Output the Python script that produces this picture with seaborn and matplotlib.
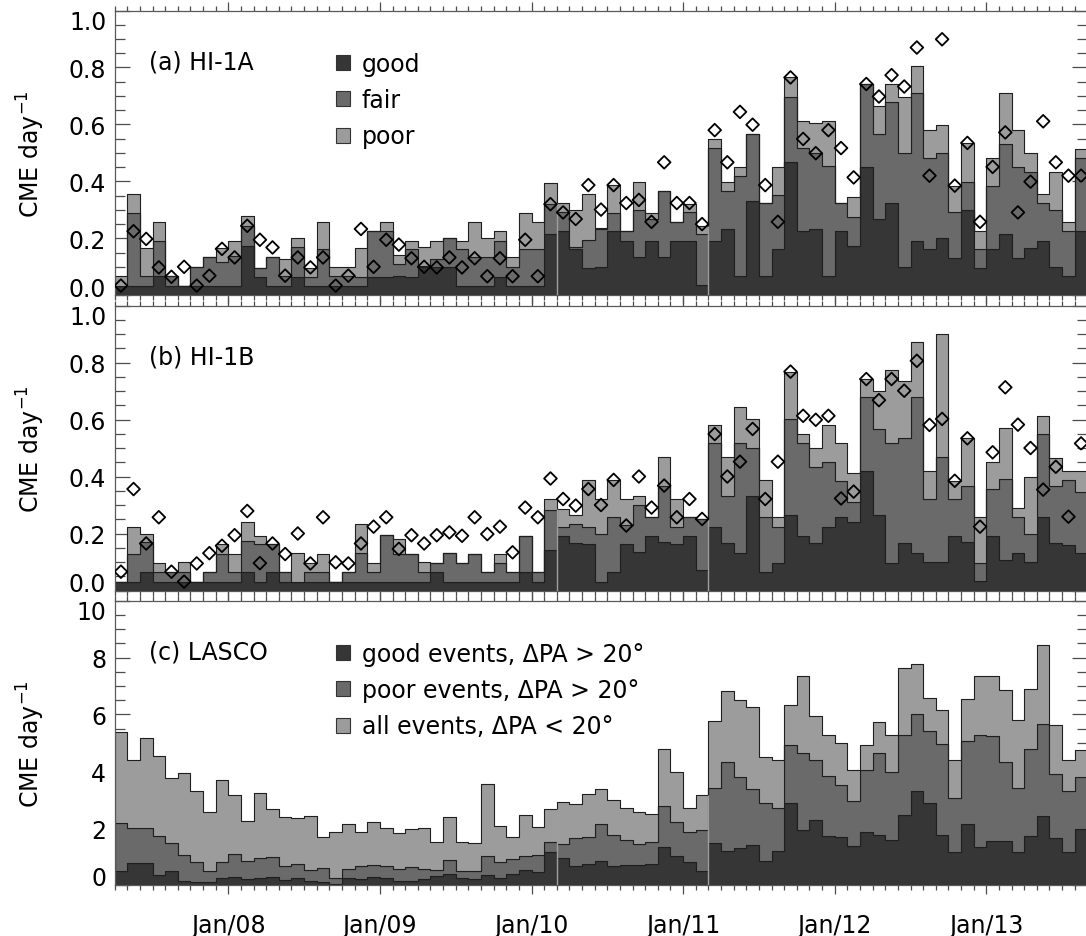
import numpy as np
import pandas as pd
import matplotlib
matplotlib.use("Agg")
import matplotlib.pyplot as plt
from matplotlib.patches import Patch
from matplotlib.ticker import MultipleLocator
from matplotlib.transforms import ScaledTranslation
import seaborn as sns

sns.set_theme(style="ticks")
plt.rcParams["font.family"] = ["DejaVu Sans"]
plt.rcParams["mathtext.default"] = "regular"
plt.rcParams["text.color"] = "black"
plt.rcParams["axes.labelcolor"] = "black"
plt.rcParams["xtick.labelcolor"] = "black"
plt.rcParams["ytick.labelcolor"] = "black"

# ---------------- data (monthly bins, first bin = Apr 2007) ----------------
n_bins = 77
year_ticks = [9, 21, 33, 45, 57, 69]
year_labels = ["Jan/08", "Jan/09", "Jan/10", "Jan/11", "Jan/12", "Jan/13"]

# HI-1A : cumulative levels (good, good+fair, all) and diamonds
hi1a_good = [0.034,0.034,0.034,0.069,0.034,0.034,0.034,0.034,0.034,0.034,0.174,0.065,0.034,0.034,0.065,0.034,0.034,0.034,0.034,0.034,
             0.065,0.065,0.069,0.065,0.100,0.100,0.098,0.034,0.034,0.034,0.065,0.034,0.034,0.034,0.215,0.225,0.163,0.095,0.100,0.225,
             0.192,0.133,0.192,0.133,0.192,0.192,0.036,0.192,0.233,0.067,0.332,0.067,0.163,0.467,0.225,0.233,0.067,0.225,0.172,0.451,
             0.268,0.323,0.100,0.192,0.163,0.200,0.130,0.301,0.095,0.163,0.214,0.130,0.165,0.192,0.100,0.067,0.225]
hi1a_fair = [0.034,0.288,0.069,0.192,0.069,0.034,0.098,0.133,0.116,0.139,0.244,0.095,0.133,0.069,0.168,0.065,0.163,0.069,0.069,0.065,
             0.225,0.225,0.110,0.163,0.104,0.127,0.200,0.163,0.133,0.133,0.192,0.098,0.163,0.163,0.320,0.291,0.168,0.195,0.233,0.289,
             0.225,0.301,0.268,0.367,0.258,0.291,0.215,0.517,0.367,0.420,0.566,0.323,0.353,0.698,0.517,0.499,0.453,0.323,0.274,0.742,
             0.566,0.677,0.499,0.709,0.481,0.499,0.291,0.399,0.163,0.385,0.533,0.451,0.432,0.323,0.301,0.225,0.481]
hi1a_all = [0.069,0.356,0.166,0.258,0.069,0.034,0.098,0.133,0.165,0.192,0.277,0.095,0.133,0.127,0.200,0.095,0.258,0.100,0.098,0.165,
            0.225,0.258,0.142,0.192,0.168,0.192,0.200,0.192,0.258,0.200,0.225,0.133,0.289,0.258,0.393,0.323,0.301,0.356,0.235,0.387,
            0.225,0.399,0.289,0.367,0.258,0.320,0.244,0.549,0.399,0.451,0.566,0.323,0.451,0.765,0.611,0.604,0.611,0.323,0.344,0.742,
            0.665,0.742,0.698,0.806,0.580,0.599,0.385,0.535,0.225,0.482,0.712,0.580,0.499,0.356,0.432,0.258,0.513]
hi1a_diam = [0.034,0.225,0.198,0.098,0.065,0.100,0.034,0.069,0.163,0.133,0.244,0.195,0.168,0.069,0.133,0.098,0.133,0.034,0.069,0.233,
             0.100,0.195,0.178,0.130,0.100,0.098,0.133,0.098,0.130,0.067,0.130,0.067,0.195,0.067,0.320,0.291,0.268,0.387,0.301,0.387,
             0.324,0.335,0.258,0.467,0.324,0.324,0.250,0.580,0.467,0.644,0.599,0.387,0.258,0.765,0.549,0.499,0.580,0.517,0.414,0.742,
             0.698,0.773,0.733,0.870,0.420,0.899,0.385,0.535,0.258,0.451,0.572,0.291,0.399,0.611,0.467,0.420,0.420]

# HI-1B
hi1b_good = [0.031,0.031,0.066,0.031,0.031,0.031,0.031,0.031,0.031,0.031,0.066,0.031,0.066,0.031,0.031,0.031,0.031,0.031,0.031,0.031,
             0.031,0.031,0.031,0.031,0.031,0.066,0.031,0.031,0.031,0.031,0.031,0.031,0.066,0.031,0.143,0.192,0.167,0.163,0.031,0.066,
             0.163,0.134,0.192,0.169,0.163,0.192,0.073,0.224,0.167,0.130,0.333,0.066,0.095,0.265,0.192,0.167,0.224,0.257,0.241,0.418,
             0.265,0.095,0.165,0.130,0.099,0.101,0.192,0.169,0.034,0.192,0.107,0.130,0.099,0.259,0.167,0.161,0.131]
hi1b_fair = [0.031,0.128,0.169,0.064,0.064,0.064,0.031,0.066,0.128,0.066,0.172,0.163,0.163,0.066,0.031,0.066,0.066,0.031,0.066,0.131,
             0.066,0.194,0.128,0.128,0.066,0.095,0.131,0.096,0.128,0.066,0.095,0.066,0.192,0.064,0.284,0.222,0.233,0.224,0.200,0.259,
             0.230,0.300,0.259,0.368,0.224,0.257,0.251,0.516,0.333,0.516,0.500,0.259,0.224,0.602,0.516,0.434,0.452,0.385,0.309,0.678,
             0.567,0.516,0.534,0.678,0.321,0.467,0.321,0.365,0.095,0.355,0.391,0.259,0.200,0.549,0.368,0.388,0.344]
hi1b_all = [0.031,0.224,0.200,0.095,0.064,0.099,0.031,0.066,0.163,0.128,0.241,0.192,0.163,0.066,0.131,0.095,0.128,0.031,0.066,0.233,
            0.095,0.194,0.181,0.128,0.099,0.095,0.131,0.096,0.128,0.066,0.128,0.066,0.192,0.064,0.321,0.287,0.265,0.388,0.321,0.388,
            0.321,0.333,0.259,0.467,0.321,0.257,0.251,0.582,0.467,0.644,0.602,0.388,0.259,0.768,0.549,0.500,0.582,0.516,0.414,0.742,
            0.701,0.775,0.734,0.871,0.418,0.900,0.385,0.534,0.259,0.452,0.570,0.288,0.399,0.611,0.465,0.418,0.418]
hi1b_diam = [0.066,0.356,0.165,0.257,0.066,0.031,0.095,0.131,0.157,0.194,0.279,0.096,0.165,0.128,0.200,0.095,0.257,0.099,0.095,0.165,
             0.224,0.257,0.146,0.194,0.165,0.194,0.204,0.192,0.257,0.198,0.224,0.134,0.291,0.257,0.393,0.321,0.298,0.356,0.300,0.388,
             0.228,0.400,0.291,0.368,0.257,0.321,0.251,0.549,0.400,0.452,0.567,0.321,0.452,0.768,0.613,0.599,0.613,0.323,0.347,0.742,
             0.668,0.742,0.701,0.806,0.581,0.602,0.385,0.534,0.224,0.485,0.713,0.582,0.500,0.354,0.434,0.259,0.516]

# LASCO : cumulative levels (good dPA>20, +poor dPA>20, +all dPA<20)
lasco_good = [0.50,0.77,0.77,0.35,0.50,0.14,0.09,0.09,0.23,0.27,0.21,0.23,0.27,0.19,0.23,0.14,0.09,0.04,0.23,0.21,
              0.27,0.23,0.15,0.15,0.21,0.31,0.37,0.23,0.21,0.35,0.23,0.39,0.54,0.45,1.15,0.94,0.66,0.74,0.86,0.66,
              0.70,0.70,0.74,1.33,1.03,0.82,0.50,1.47,1.21,1.29,1.41,0.84,1.21,2.89,1.95,2.27,1.71,1.68,1.38,1.88,
              1.77,1.60,2.46,3.30,2.88,1.77,1.17,2.15,1.35,1.54,1.56,1.15,1.71,2.44,1.64,1.15,1.97]
lasco_poor = [2.18,2.00,2.00,1.71,1.48,1.06,0.82,0.50,0.82,1.09,0.86,0.94,0.97,0.66,0.74,0.54,0.59,0.23,0.56,0.66,
              0.70,0.66,0.56,0.62,0.56,0.54,0.87,0.50,0.50,1.01,0.82,0.92,1.03,1.06,1.53,1.44,1.64,1.68,2.15,1.76,
              1.60,1.44,1.53,2.79,2.21,1.88,1.95,3.40,4.32,3.81,3.38,2.90,2.70,4.94,4.64,4.38,3.83,3.52,2.97,4.03,
              4.64,3.99,5.29,6.00,5.43,4.96,3.05,5.06,5.28,5.23,4.32,3.40,4.77,5.65,3.91,3.32,3.79]
lasco_all = [5.38,4.41,5.16,4.55,3.77,3.94,3.30,2.56,3.71,3.15,2.24,3.23,2.68,2.38,2.35,2.44,1.68,1.85,2.15,1.88,
             2.23,2.00,1.82,1.97,2.00,1.50,2.40,1.50,1.48,3.56,2.09,1.68,2.46,2.05,2.68,2.93,2.85,3.20,3.36,3.00,
             2.70,2.56,2.48,4.79,3.97,2.70,3.17,5.76,6.82,6.49,6.26,4.51,4.38,6.34,7.34,5.96,5.26,5.00,4.06,4.94,
             5.75,5.29,7.64,7.78,6.57,6.14,4.38,6.55,7.34,7.34,6.87,5.82,6.90,8.43,5.63,4.38,4.75]

gap_edges = [35, 47]   # bin edges where the fills show a faint seam

colors = ["#363636", "#6a6a6a", "#9c9c9c"]
edge_col = "0.12"

# ---------------- figure ----------------
W, H = 1086, 937
fig = plt.figure(figsize=(W / 100, H / 100), dpi=100)

x_left, x_right = 114.6, 1087.4
panels = [(11.5, 296.3), (306.5, 591.5), (601.7, 886.0)]
axes = []
for top, bot in panels:
    axes.append(fig.add_axes([x_left / W, 1 - bot / H, (x_right - x_left) / W, (bot - top) / H]))

centers = np.arange(n_bins) + 0.5


def stacked(ax, levels, names):
    lv = [np.asarray(l, float) for l in levels]
    parts = [lv[0], lv[1] - lv[0], lv[2] - lv[1]]
    df = pd.DataFrame({
        "x": np.tile(centers, 3),
        "w": np.concatenate(parts),
        "cat": np.repeat(names, n_bins),
    })
    sns.histplot(data=df, x="x", weights="w", hue="cat", hue_order=names[::-1],
                 multiple="stack", element="step", bins=n_bins, binrange=(0, n_bins),
                 palette=dict(zip(names, colors)), alpha=1, edgecolor=edge_col,
                 linewidth=0.8, legend=False, ax=ax)
    tot = lv[2]
    for e in gap_edges:
        ax.vlines(e, 0, min(tot[e - 1], tot[e]), color="0.62", lw=1.0, zorder=3)


def diamonds(ax, vals):
    ax.scatter(centers, vals, marker="D", s=42, facecolors="none",
               edgecolors="black", linewidths=1.3, zorder=5)


stacked(axes[0], [hi1a_good, hi1a_fair, hi1a_all], ["good", "fair", "poor"])
diamonds(axes[0], hi1a_diam)
stacked(axes[1], [hi1b_good, hi1b_fair, hi1b_all], ["good", "fair", "poor"])
diamonds(axes[1], hi1b_diam)
stacked(axes[2], [lasco_good, lasco_poor, lasco_all], ["g", "p", "a"])

fs = 17
for i, ax in enumerate(axes):
    ax.set_xlim(0, n_bins)
    ax.set_xticks(year_ticks)
    ax.xaxis.set_minor_locator(MultipleLocator(1))
    ax.tick_params(axis="x", which="both", direction="out", top=True, bottom=True,
                   color="0.3", width=0.9, labelcolor="black")
    ax.tick_params(axis="x", which="major", length=6.5)
    ax.tick_params(axis="x", which="minor", length=3.6)
    ax.tick_params(axis="y", which="both", direction="in", left=True, right=True,
                   color="0.3", width=0.9, labelsize=fs, pad=6, labelcolor="black")
    ax.tick_params(axis="y", which="major", length=10.8)
    ax.tick_params(axis="y", which="minor", length=7.0)
    for s in ax.spines.values():
        s.set_color("0.35")
        s.set_linewidth(0.9)
    ax.set_xlabel("")
    ax.set_ylabel("CME day$^{-1}$", fontsize=fs, color="black")
    ax.yaxis.set_label_coords(-0.0695, 0.5)
    if i < 2:
        ax.set_ylim(0, 1.0)
        ax.set_yticks(np.arange(0, 1.01, 0.2))
        ax.set_yticklabels([f"{v:.1f}" for v in np.arange(0, 1.01, 0.2)])
        ax.yaxis.set_minor_locator(MultipleLocator(0.05))
        ax.set_xticklabels([])
    else:
        ax.set_ylim(0, 10)
        ax.set_yticks(np.arange(0, 11, 2))
        ax.set_yticklabels([str(v) for v in range(0, 11, 2)])
        ax.yaxis.set_minor_locator(MultipleLocator(0.5))
        ax.set_xticklabels(year_labels, fontsize=fs)
        ax.tick_params(axis="x", which="major", pad=14)
    yt = ax.yaxis.get_major_ticks()
    lab0 = yt[0].label1
    lab0.set_transform(lab0.get_transform() + ScaledTranslation(0, 0.09, fig.dpi_scale_trans))
    labn = yt[-1].label1
    labn.set_transform(labn.get_transform() + ScaledTranslation(0, -0.09, fig.dpi_scale_trans))

panel_txt = ["(a) HI-1A", "(b) HI-1B", "(c) LASCO"]
for ax, t in zip(axes, panel_txt):
    ax.text(0.0354, 0.822, t, transform=ax.transAxes, fontsize=fs, va="center", ha="left",
            color="black")

leg_labels = [["good", "fair", "poor"],
              ["good events, \u0394PA > 20°", "poor events, \u0394PA > 20°",
               "all events, \u0394PA < 20°"]]
for ax, labs in zip([axes[0], axes[2]], leg_labels):
    handles = [Patch(facecolor=c, edgecolor="0.2", linewidth=0.8) for c in colors]
    leg = ax.legend(handles, labs, loc="upper left", bbox_to_anchor=(0.2276, 0.855),
                    frameon=False, fontsize=fs, handlelength=0.6, handleheight=0.6,
                    handletextpad=0.5, labelspacing=0.52, borderpad=0, borderaxespad=0)
    for t in leg.get_texts():
        t.set_color("black")

fig.savefig("out.png", dpi=100)
